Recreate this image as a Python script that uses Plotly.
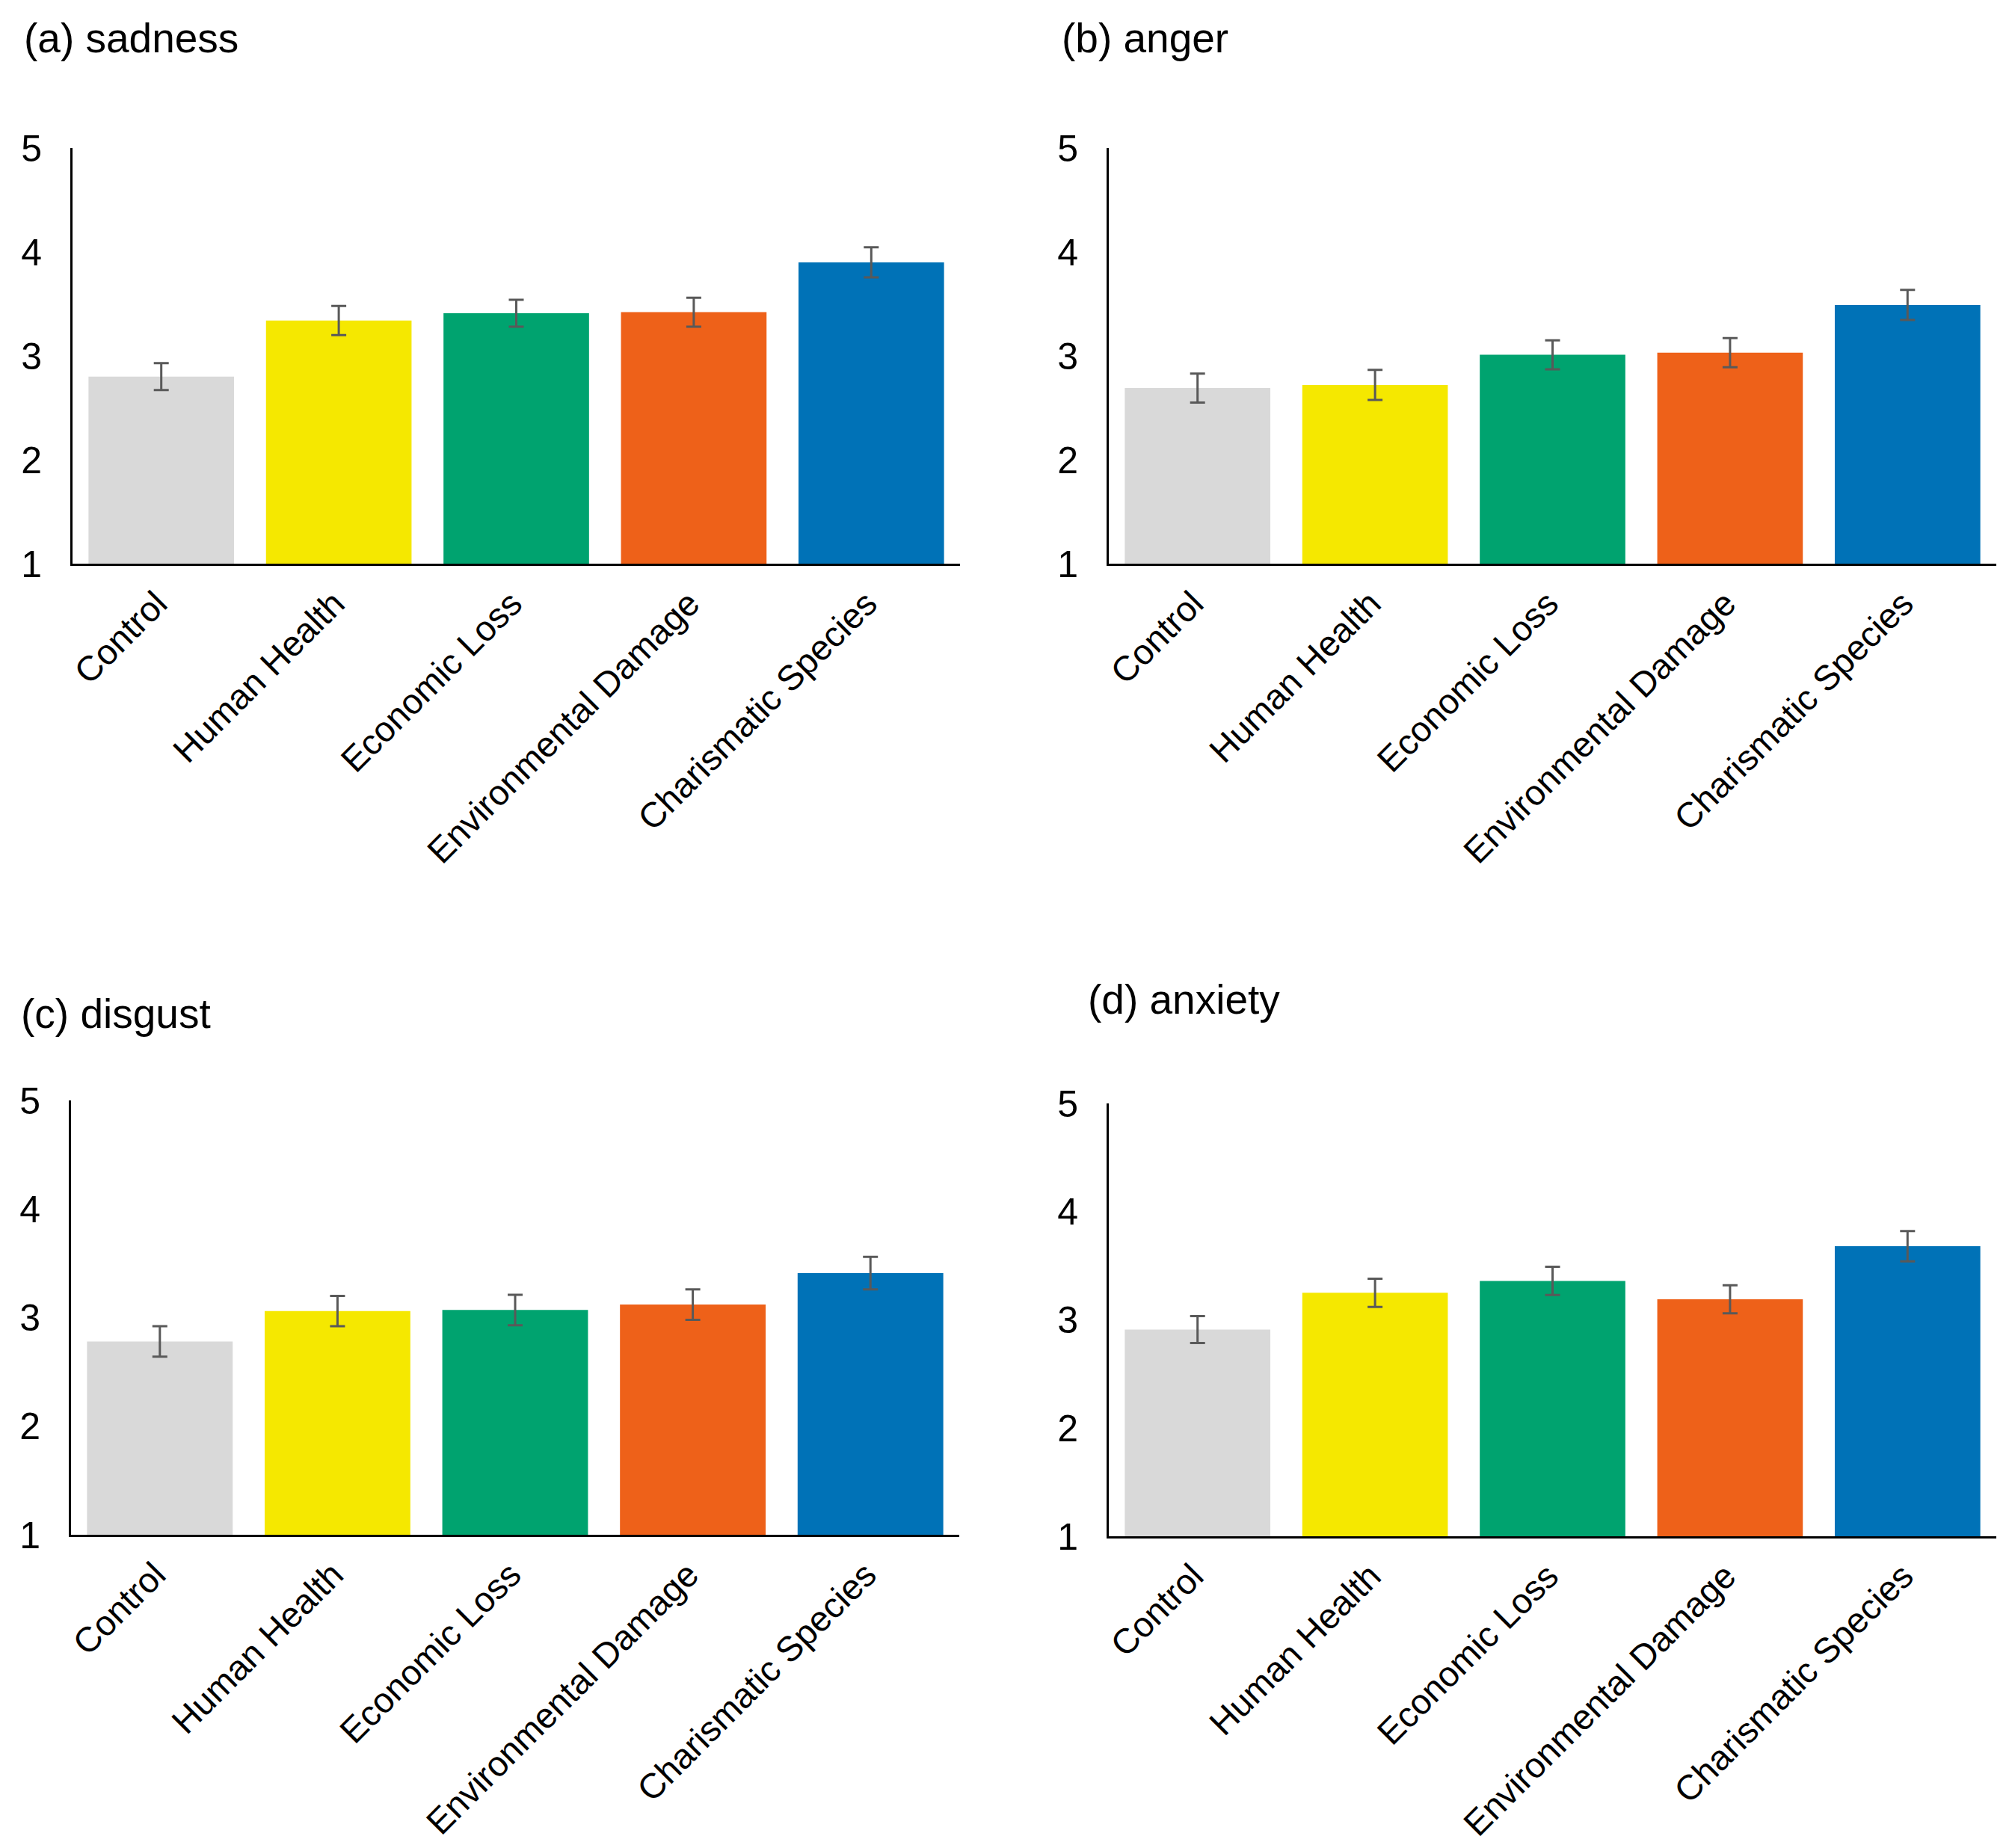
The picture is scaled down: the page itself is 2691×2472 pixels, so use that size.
import plotly.graph_objects as go

categories = ["Control", "Human Health", "Economic Loss", "Environmental Damage", "Charismatic Species"]
bar_colors = ["#D9D9D9", "#F5E800", "#00A36F", "#EE6119", "#0072B7"]

panel_titles = ["(a) sadness", "(b) anger", "(c) disgust", "(d) anxiety"]

sadness_mean = [2.80, 3.34, 3.41, 3.42, 3.90]
sadness_err = [0.13, 0.14, 0.13, 0.14, 0.145]

anger_mean = [2.69, 2.72, 3.01, 3.03, 3.49]
anger_err = [0.14, 0.145, 0.14, 0.14, 0.145]

disgust_mean = [2.78, 3.06, 3.07, 3.12, 3.41]
disgust_err = [0.14, 0.14, 0.14, 0.14, 0.15]

anxiety_mean = [2.91, 3.25, 3.36, 3.19, 3.68]
anxiety_err = [0.125, 0.13, 0.13, 0.13, 0.14]

y_ticks = [1, 2, 3, 4, 5]

W, H = 2691, 2472
FONT = "Liberation Sans, Arial, sans-serif"

means = [sadness_mean, anger_mean, disgust_mean, anxiety_mean]
errs = [sadness_err, anger_err, disgust_err, anxiety_err]

# panel boxes in pixels: (left, right, top, bottom)
boxes = [
    (97, 1284, 198, 754),
    (1483, 2670, 198, 754),
    (95, 1283, 1472, 2053),
    (1483, 2670, 1476, 2055),
]
title_pos = [(30, 51), (1418, 51), (26, 1356), (1453, 1337)]

fig = go.Figure()
layout = dict(
    width=W, height=H, autosize=False,
    margin=dict(l=0, r=0, t=0, b=0, pad=0),
    paper_bgcolor="white", plot_bgcolor="white",
    showlegend=False, bargap=0.18,
    font=dict(family=FONT, color="black"),
    annotations=[],
)

for i in range(4):
    sfx = "" if i == 0 else str(i + 1)
    fig.add_trace(go.Bar(
        x=categories, y=means[i],
        marker=dict(color=bar_colors, line=dict(width=0)),
        error_y=dict(type="data", array=errs[i], visible=True,
                     color="#595959", thickness=3, width=10),
        xaxis="x" + sfx, yaxis="y" + sfx,
    ))
    l, r, t, b = boxes[i]
    layout["xaxis" + sfx] = dict(
        domain=[l / W, r / W], anchor="y" + sfx,
        showline=True, linecolor="black", linewidth=3,
        showgrid=False, zeroline=False, automargin=False,
        tickangle=-45, tickfont=dict(size=47, family=FONT, color="black"),
        ticks="outside", ticklen=0, ticklabelstandoff=4, ticklabelshift=-6,
        range=[-0.5, 4.5],
    )
    layout["yaxis" + sfx] = dict(
        domain=[1 - b / H, 1 - t / H], anchor="x" + sfx,
        range=[1, 5], tickvals=y_ticks,
        showline=True, linecolor="black", linewidth=3,
        showgrid=False, zeroline=False, automargin=False,
        tickfont=dict(size=50, family=FONT, color="black"),
        ticks="outside", ticklen=0, ticklabelstandoff=28,
    )
    tx, ty = title_pos[i]
    layout["annotations"].append(dict(
        text=panel_titles[i], xref="paper", yref="paper",
        x=tx / W, y=1 - ty / H, xanchor="left", yanchor="middle",
        showarrow=False, font=dict(size=55, family=FONT, color="black"),
    ))

fig.update_layout(**layout)
fig.write_html("out.html", config={"displayModeBar": False},
               post_script="document.body.style.margin='0';")
